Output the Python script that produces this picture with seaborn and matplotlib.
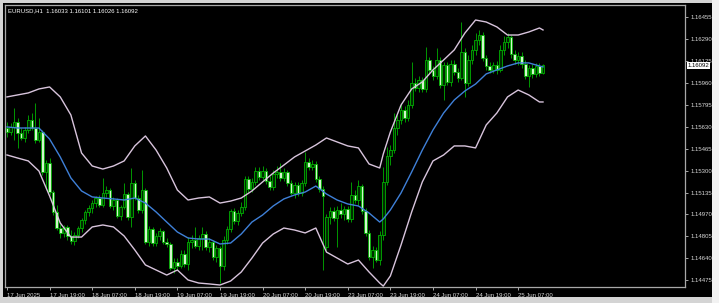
import numpy as np
import pandas as pd
import matplotlib
matplotlib.use("Agg")
import matplotlib.pyplot as plt
import matplotlib.transforms as mtransforms
from matplotlib.patches import Rectangle
import seaborn as sns

# ---------------- data (EURUSD H1) ----------------
open_ = [
1.15621, 1.15591, 1.15629, 1.15666, 1.15583, 1.15546, 1.15606, 1.15681, 1.15621, 1.15531,
1.15591, 1.15290, 1.15358, 1.15139, 1.14989, 1.14868, 1.14831, 1.14876, 1.14808, 1.14770,
1.14815, 1.14868, 1.14928, 1.14989, 1.15019, 1.15056, 1.15094, 1.15041, 1.15132, 1.15154,
1.15034, 1.15079, 1.14959, 1.15026, 1.15124, 1.14951, 1.15207, 1.15094, 1.15004, 1.15154,
1.14763, 1.14861, 1.14755, 1.14808, 1.14846, 1.14763, 1.14748, 1.14567, 1.14612, 1.14582,
1.14672, 1.14597, 1.14763, 1.14778, 1.14733, 1.14793, 1.14823, 1.14725, 1.14763, 1.14650,
1.14718, 1.14582, 1.14778, 1.14861, 1.14996, 1.14921, 1.14981, 1.15026, 1.15237, 1.15162,
1.15215, 1.15297, 1.15252, 1.15297, 1.15222, 1.15177, 1.15275, 1.15290, 1.15245, 1.15290,
1.15207, 1.15132, 1.15192, 1.15132, 1.15207, 1.15365, 1.15327, 1.15350, 1.15237, 1.15162,
1.14725, 1.14951, 1.14996, 1.14943, 1.15004, 1.14974, 1.15011, 1.14936, 1.15117, 1.15079,
1.15184, 1.14996, 1.14831, 1.14650, 1.14703, 1.14627, 1.14815, 1.15215, 1.15410, 1.15455,
1.15621, 1.15681, 1.15757, 1.15696, 1.15794, 1.15960, 1.15922, 1.15983, 1.15915, 1.16133,
1.16058, 1.16013, 1.16133, 1.15945, 1.16096, 1.15968, 1.16103, 1.16043, 1.15998, 1.16193,
1.15960, 1.16133, 1.16209, 1.16284, 1.16321, 1.16148, 1.16088, 1.16058, 1.16096, 1.16058,
1.16209, 1.16269, 1.16306, 1.16178, 1.16133, 1.16163, 1.16103, 1.16013, 1.16073, 1.16028,
1.16088, 1.16033]

high = [
1.15666, 1.15659, 1.15772, 1.15696, 1.15621, 1.15629, 1.15719, 1.15734, 1.15809, 1.15696,
1.15606, 1.15380, 1.15395, 1.15154, 1.15041, 1.14898, 1.14891, 1.14891, 1.14853, 1.14838,
1.14883, 1.14943, 1.15004, 1.15041, 1.15079, 1.15109, 1.15117, 1.15245, 1.15184, 1.15169,
1.15102, 1.15094, 1.15041, 1.15207, 1.15139, 1.15320, 1.15230, 1.15117, 1.15305, 1.15169,
1.14883, 1.14876, 1.14831, 1.14868, 1.14853, 1.14793, 1.14763, 1.14642, 1.14642, 1.14703,
1.14703, 1.14800, 1.14815, 1.14876, 1.14815, 1.14876, 1.14846, 1.14793, 1.14778, 1.14740,
1.14733, 1.14808, 1.14883, 1.15011, 1.15019, 1.15004, 1.15064, 1.15260, 1.15260, 1.15245,
1.15327, 1.15327, 1.15335, 1.15320, 1.15260, 1.15305, 1.15335, 1.15358, 1.15320, 1.15305,
1.15230, 1.15215, 1.15215, 1.15230, 1.15440, 1.15395, 1.15380, 1.15373, 1.15260, 1.15184,
1.14974, 1.15026, 1.15026, 1.15034, 1.15056, 1.15034, 1.15034, 1.15215, 1.15154, 1.15230,
1.15199, 1.15019, 1.14853, 1.14733, 1.14725, 1.14846, 1.15327, 1.15478, 1.15493, 1.15734,
1.15719, 1.15809, 1.15787, 1.15832, 1.16118, 1.15998, 1.16013, 1.16005, 1.16231, 1.16156,
1.16088, 1.16224, 1.16156, 1.16118, 1.16118, 1.16133, 1.16133, 1.16073, 1.16419, 1.16224,
1.16171, 1.16246, 1.16336, 1.16359, 1.16344, 1.16171, 1.16118, 1.16118, 1.16126, 1.16246,
1.16314, 1.16336, 1.16321, 1.16209, 1.16193, 1.16193, 1.16133, 1.16096, 1.16103, 1.16111,
1.16111, 1.16101]

low = [
1.15553, 1.15568, 1.15531, 1.15471, 1.15531, 1.15516, 1.15583, 1.15606, 1.15508, 1.15516,
1.15267, 1.15169, 1.15117, 1.14966, 1.14853, 1.14793, 1.14800, 1.14778, 1.14748, 1.14740,
1.14793, 1.14838, 1.14898, 1.14959, 1.14981, 1.15026, 1.15026, 1.15026, 1.15102, 1.15019,
1.15004, 1.14943, 1.14928, 1.15011, 1.14928, 1.14876, 1.15079, 1.14981, 1.14981, 1.14748,
1.14733, 1.14733, 1.14733, 1.14778, 1.14748, 1.14725, 1.14552, 1.14529, 1.14552, 1.14567,
1.14574, 1.14552, 1.14718, 1.14718, 1.14703, 1.14703, 1.14703, 1.14687, 1.14627, 1.14612,
1.14454, 1.14552, 1.14748, 1.14838, 1.14898, 1.14891, 1.14959, 1.15004, 1.15139, 1.15139,
1.15192, 1.15230, 1.15230, 1.15199, 1.15154, 1.15154, 1.15245, 1.15222, 1.15222, 1.15184,
1.15117, 1.15094, 1.15109, 1.15109, 1.15184, 1.15305, 1.15305, 1.15215, 1.15139, 1.14552,
1.14703, 1.14898, 1.14921, 1.14725, 1.14943, 1.14928, 1.14913, 1.14913, 1.15056, 1.15041,
1.14974, 1.14808, 1.14627, 1.14567, 1.14612, 1.14590, 1.14778, 1.15192, 1.15342, 1.15433,
1.15568, 1.15651, 1.15666, 1.15674, 1.15772, 1.15900, 1.15892, 1.15892, 1.15892, 1.16035,
1.15983, 1.15990, 1.15922, 1.15832, 1.15945, 1.15937, 1.16020, 1.15968, 1.15983, 1.15855,
1.15937, 1.16103, 1.16171, 1.16246, 1.16126, 1.16058, 1.16035, 1.16035, 1.16028, 1.16043,
1.16171, 1.16224, 1.16148, 1.16103, 1.16096, 1.16073, 1.15990, 1.15930, 1.15998, 1.16005,
1.16013, 1.16026]

close = [
1.15591, 1.15629, 1.15666, 1.15583, 1.15546, 1.15606, 1.15681, 1.15621, 1.15531, 1.15591,
1.15290, 1.15358, 1.15139, 1.14989, 1.14868, 1.14831, 1.14876, 1.14808, 1.14770, 1.14815,
1.14868, 1.14928, 1.14989, 1.15019, 1.15056, 1.15094, 1.15041, 1.15132, 1.15154, 1.15034,
1.15079, 1.14959, 1.15026, 1.15124, 1.14951, 1.15207, 1.15094, 1.15004, 1.15154, 1.14763,
1.14861, 1.14755, 1.14808, 1.14846, 1.14763, 1.14748, 1.14567, 1.14612, 1.14582, 1.14672,
1.14597, 1.14763, 1.14778, 1.14733, 1.14793, 1.14823, 1.14725, 1.14763, 1.14650, 1.14718,
1.14582, 1.14778, 1.14861, 1.14996, 1.14921, 1.14981, 1.15026, 1.15237, 1.15162, 1.15215,
1.15297, 1.15252, 1.15297, 1.15222, 1.15177, 1.15275, 1.15290, 1.15245, 1.15290, 1.15207,
1.15132, 1.15192, 1.15132, 1.15207, 1.15365, 1.15327, 1.15350, 1.15237, 1.15162, 1.15109,
1.14951, 1.14996, 1.14943, 1.15004, 1.14974, 1.15011, 1.14936, 1.15117, 1.15079, 1.15184,
1.14996, 1.14831, 1.14650, 1.14703, 1.14627, 1.14815, 1.15215, 1.15410, 1.15455, 1.15621,
1.15681, 1.15757, 1.15696, 1.15794, 1.15960, 1.15922, 1.15983, 1.15915, 1.16133, 1.16058,
1.16013, 1.16133, 1.15945, 1.16096, 1.15968, 1.16103, 1.16043, 1.15998, 1.16193, 1.15960,
1.16133, 1.16209, 1.16284, 1.16321, 1.16148, 1.16088, 1.16058, 1.16096, 1.16058, 1.16209,
1.16269, 1.16306, 1.16178, 1.16133, 1.16163, 1.16103, 1.16013, 1.16073, 1.16028, 1.16088,
1.16035, 1.16092]

# Bollinger bands, read at these bar numbers
band_bar = [0, 3, 6, 9, 12, 15, 18, 21, 24, 27, 30, 33, 36, 39, 42, 45, 48, 51, 54, 57,
            60, 63, 66, 69, 72, 75, 78, 81, 84, 87, 90, 93, 96, 99, 102, 105, 106, 108, 111, 114,
            117, 120, 123, 126, 129, 132, 135, 138, 141, 144, 147, 150, 151]
upper_band = [
1.15855, 1.15870, 1.15885, 1.15915, 1.15930, 1.15855, 1.15719, 1.15433, 1.15335, 1.15312,
1.15335, 1.15373, 1.15486, 1.15561, 1.15455, 1.15320, 1.15154, 1.15079, 1.15094, 1.15102,
1.15056, 1.15071, 1.15094, 1.15147, 1.15215, 1.15282, 1.15342, 1.15403, 1.15448, 1.15493,
1.15546, 1.15516, 1.15486, 1.15471, 1.15350, 1.15320, 1.15425, 1.15591, 1.15794, 1.15915,
1.15968, 1.16058, 1.16133, 1.16209, 1.16336, 1.16434, 1.16419, 1.16382, 1.16321, 1.16321,
1.16344, 1.16374, 1.16359]
middle_band = [
1.15629, 1.15621, 1.15621, 1.15621, 1.15538, 1.15403, 1.15245, 1.15147, 1.15102, 1.15094,
1.15087, 1.15079, 1.15094, 1.15056, 1.14989, 1.14913, 1.14838, 1.14793, 1.14785, 1.14785,
1.14748, 1.14755, 1.14823, 1.14913, 1.14966, 1.15034, 1.15087, 1.15117, 1.15139, 1.15184,
1.15124, 1.15079, 1.15049, 1.15034, 1.14981, 1.14913, 1.14936, 1.15004, 1.15132, 1.15290,
1.15455, 1.15606, 1.15734, 1.15832, 1.15900, 1.15952, 1.16028, 1.16058, 1.16088, 1.16111,
1.16111, 1.16088, 1.16081]
lower_band = [
1.15418, 1.15395, 1.15373, 1.15297, 1.15109, 1.14906, 1.14800, 1.14800, 1.14876, 1.14891,
1.14876, 1.14808, 1.14703, 1.14590, 1.14552, 1.14514, 1.14552, 1.14477, 1.14454, 1.14447,
1.14439, 1.14469, 1.14537, 1.14642, 1.14755, 1.14823, 1.14868, 1.14853, 1.14831, 1.14868,
1.14687, 1.14642, 1.14597, 1.14627, 1.14537, 1.14454, 1.14431, 1.14507, 1.14740, 1.14989,
1.15215, 1.15373, 1.15418, 1.15486, 1.15486, 1.15471, 1.15644, 1.15734, 1.15855, 1.15907,
1.15870, 1.15817, 1.15817]

xtick_bar = [0, 12, 24, 36, 48, 60, 72, 84, 96, 108, 120, 132, 144]
xtick_labels = ["17 Jun 2025", "17 Jun 19:00", "18 Jun 07:00", "18 Jun 19:00",
                "19 Jun 07:00", "19 Jun 19:00", "20 Jun 07:00", "20 Jun 19:00",
                "23 Jun 07:00", "23 Jun 19:00", "24 Jun 07:00", "24 Jun 19:00",
                "25 Jun 07:00"]
ytick_values = [1.14475, 1.14640, 1.14805, 1.14970, 1.15135, 1.15300, 1.15465,
                1.15630, 1.15795, 1.15960, 1.16125, 1.16290, 1.16455]
title_text = "EURUSD,H1  1.16033 1.16101 1.16026 1.16092"
last_price = 1.16092

# ---------------- figure ----------------
plt.rcParams["font.family"] = ["Liberation Sans", "DejaVu Sans"]
W, H = 719, 303
fig = plt.figure(figsize=(W / 100, H / 100), dpi=100, facecolor="#d4d4d4")
fig.patches.append(Rectangle((3 / W, 6 / H), 709 / W, 294 / H, transform=fig.transFigure,
                             facecolor="black", edgecolor="none", zorder=-10))
fig.patches.append(Rectangle((712 / W, 0), 7 / W, 1, transform=fig.transFigure,
                             facecolor="#f2f2f2", edgecolor="none", zorder=-10))

ax = fig.add_axes([5 / W, 16 / H, 680 / W, 282 / H])
ax.set_zorder(1)
ax.set_facecolor("black")

o = np.array(open_); h = np.array(high); l = np.array(low); c = np.array(close)
idx = np.arange(len(o))
green = "#00b000"
ax.vlines(idx, l, h, color=green, lw=0.6, zorder=2)
bull = c >= o
ax.bar(idx[bull], (c - o)[bull], bottom=o[bull], width=0.72, color="#002a00",
       edgecolor=green, linewidth=0.6, zorder=3)
ax.bar(idx[~bull], (o - c)[~bull], bottom=c[~bull], width=0.72, color="#d2f5cc",
       edgecolor=green, linewidth=0.6, zorder=3)

df = pd.DataFrame({
    "bar": band_bar * 3,
    "price": upper_band + middle_band + lower_band,
    "band": ["upper"] * len(band_bar) + ["middle"] * len(band_bar) + ["lower"] * len(band_bar),
})
sns.lineplot(data=df, x="bar", y="price", hue="band", estimator=None,
             palette={"upper": "#d8c4dc", "middle": "#3f80d8", "lower": "#d8c4dc"},
             legend=False, ax=ax, lw=1.0, zorder=4)

ax.set_xlim(-0.56, 191.0)
ax.set_ylim(1.14424, 1.16547)
ax.set_xlabel("")
ax.set_ylabel("")

for s in ax.spines.values():
    s.set_color("#a8a8a8")
    s.set_linewidth(0.9)

ax.yaxis.tick_right()
ax.set_yticks(ytick_values)
ax.set_yticklabels([f"{v:.5f}" for v in ytick_values])
ax.set_xticks(xtick_bar)
ax.set_xticklabels(xtick_labels)
for lab in ax.get_xticklabels():
    lab.set_horizontalalignment("left")
ax.tick_params(axis="both", colors="#a8a8a8", labelcolor="#d8d8d8", labelsize=4.3,
               length=2.2, width=0.7, direction="out", pad=1.5)
ax.tick_params(axis="x", pad=2.2)

fig.text(8 / W, 1 - 11 / H, title_text, color="white", fontsize=4.3, ha="left", va="center",
         zorder=5)

trans = mtransforms.blended_transform_factory(ax.transAxes, ax.transData)
ax.text(1 + 2.5 / 680, last_price, f"{last_price:.5f}", transform=trans, color="black",
        fontsize=4.3, ha="left", va="center", zorder=10, clip_on=False,
        bbox=dict(facecolor="white", edgecolor="none", pad=0.6))

fig.savefig("out.png", dpi=100, facecolor=fig.get_facecolor())
